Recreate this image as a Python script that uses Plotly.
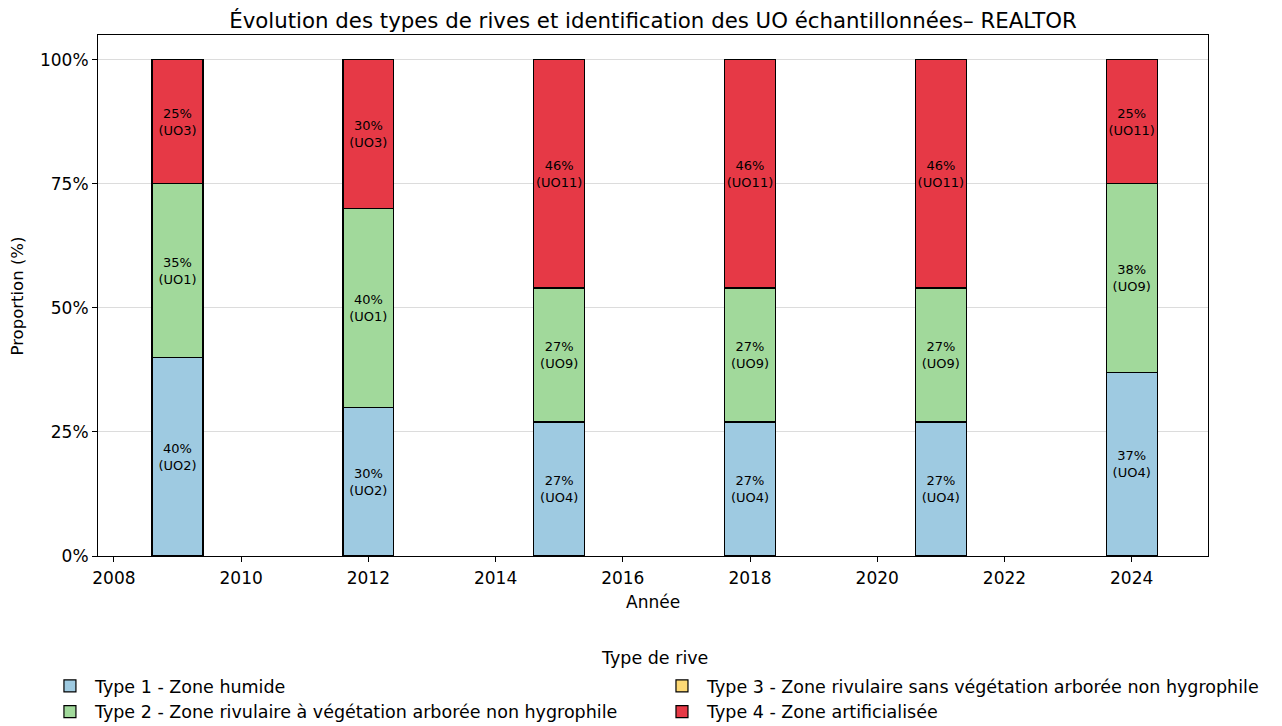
import plotly.graph_objects as go

years = [2009, 2012, 2015, 2018, 2021, 2024]
type_names = [
    "Type 1 - Zone humide",
    "Type 2 - Zone rivulaire à végétation arborée non hygrophile",
    "Type 3 - Zone rivulaire sans végétation arborée non hygrophile",
    "Type 4 - Zone artificialisée",
]
type1 = [40, 30, 27, 27, 27, 37]
type2 = [35, 40, 27, 27, 27, 38]
type3 = [0, 0, 0, 0, 0, 0]
type4 = [25, 30, 46, 46, 46, 25]
uo1 = ["UO2", "UO2", "UO4", "UO4", "UO4", "UO4"]
uo2 = ["UO1", "UO1", "UO9", "UO9", "UO9", "UO9"]
uo3 = ["", "", "", "", "", ""]
uo4 = ["UO3", "UO3", "UO11", "UO11", "UO11", "UO11"]
colors = ["#9ecae1", "#a1d99b", "#fdd975", "#e63946"]
tick_years = [2008, 2010, 2012, 2014, 2016, 2018, 2020, 2022, 2024]

FONT = "DejaVu Sans"
fig = go.Figure()
series = [type1, type2, type3, type4]
uos = [uo1, uo2, uo3, uo4]
legends = ["legend", "legend", "legend2", "legend2"]
for i in range(4):
    texts = [f"{v}%<br>({u})" if v > 0 else "" for v, u in zip(series[i], uos[i])]
    fig.add_trace(go.Bar(
        x=years, y=series[i], name=type_names[i], width=0.8,
        marker=dict(color=colors[i], line=dict(color="black", width=1.2)),
        text=texts, textposition="inside", insidetextanchor="middle",
        textangle=0, constraintext="none",
        textfont=dict(family=FONT, size=13, color="black"),
        legend=legends[i], legendgroup=f"g{i}", hoverinfo="skip",
    ))

leg_common = dict(orientation="v", font=dict(family=FONT, size=17.5),
                  bgcolor="rgba(0,0,0,0)", tracegroupgap=7, itemwidth=40,
                  traceorder="normal", xref="container", yref="container",
                  yanchor="top", xanchor="left")

fig.update_layout(
    barmode="stack",
    width=1274, height=718,
    margin=dict(l=90, r=74, t=27, b=170, autoexpand=False),
    paper_bgcolor="white", plot_bgcolor="white",
    font=dict(family=FONT, size=17, color="black"),
    title=dict(text="Évolution des types de rives et identification des UO échantillonnées– REALTOR",
               x=0.5, xref="paper", xanchor="center", y=0.983, yref="container", yanchor="middle",
               font=dict(family=FONT, size=21.3, color="black")),
    xaxis=dict(range=[2007.75, 2025.2], tickvals=tick_years, showgrid=False,
               showline=True, linecolor="black", linewidth=1, mirror=True,
               ticks="outside", ticklen=5, tickcolor="black", zeroline=False,
               tickfont=dict(size=17), automargin=False, ticklabelstandoff=2),
    yaxis=dict(range=[0, 105], tickvals=[0, 25, 50, 75, 100],
               ticktext=["0%", "25%", "50%", "75%", "100%"],
               showgrid=True, gridcolor="#dcdcdc", gridwidth=1,
               showline=True, linecolor="black", linewidth=1, mirror=True,
               ticks="outside", ticklen=5, tickcolor="black", zeroline=False,
               tickfont=dict(size=17), automargin=False),
    legend=dict(x=0.029, y=0.0808, **leg_common),
    legend2=dict(x=0.5094, y=0.0808, **leg_common),
    annotations=[
        dict(text="Type de rive", xref="paper", yref="paper",
             x=0.5018, y=-0.1958, xanchor="center", yanchor="middle",
             showarrow=False, font=dict(family=FONT, size=17.5)),
        dict(text="Année", xref="paper", yref="paper",
             x=0.5, y=-0.0883, xanchor="center", yanchor="middle",
             showarrow=False, font=dict(family=FONT, size=17)),
        dict(text="Proportion (%)", xref="paper", yref="paper",
             x=-0.0721, y=0.5, xanchor="center", yanchor="middle", textangle=-90,
             showarrow=False, font=dict(family=FONT, size=16.5)),
    ],
)

fig.write_html("out.html")
